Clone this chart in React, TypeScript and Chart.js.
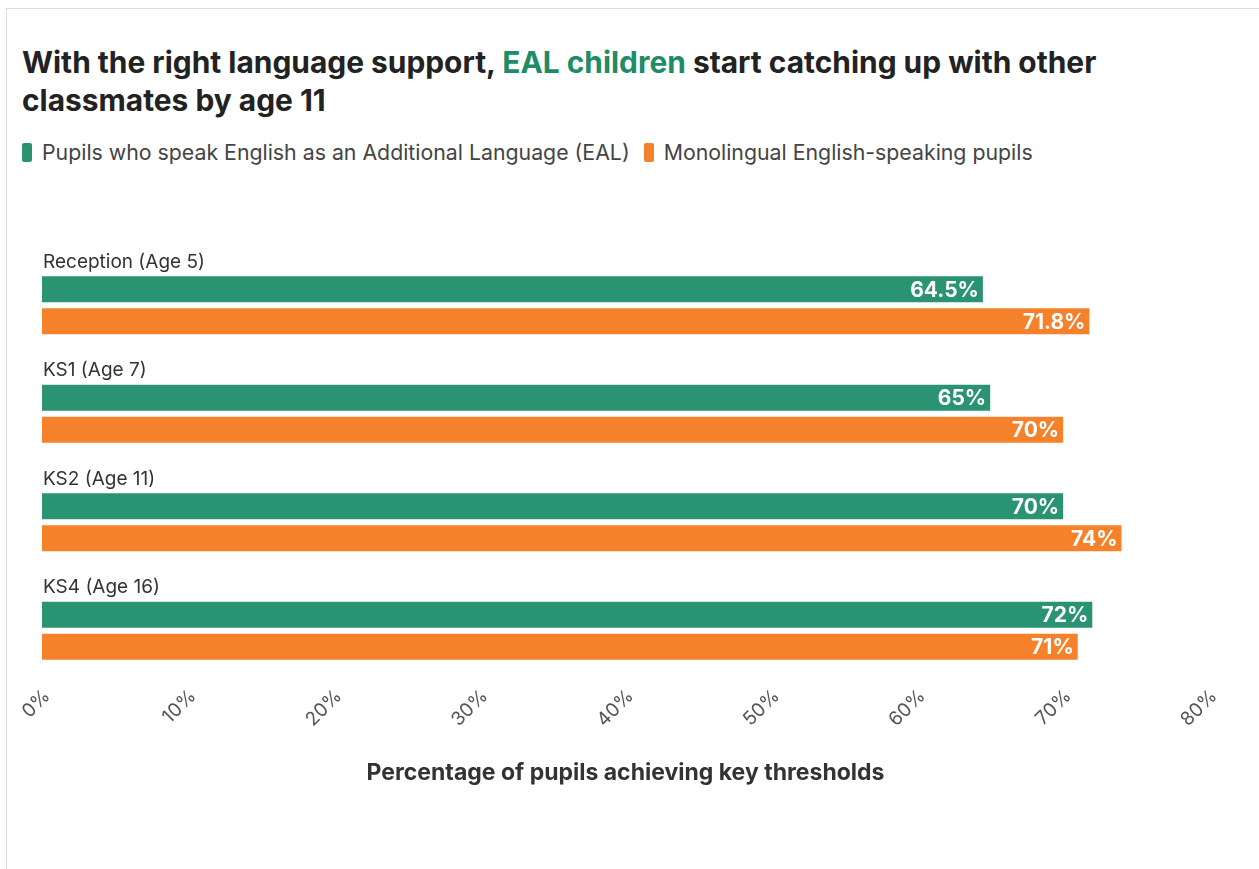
import React, { useEffect, useRef } from "react";
import { Chart, registerables } from "chart.js";

Chart.register(...registerables);

const categories = ["Reception (Age 5)", "KS1 (Age 7)", "KS2 (Age 11)", "KS4 (Age 16)"];
const ealValues = [64.5, 65, 70, 72];
const monoValues = [71.8, 70, 74, 71];
const ealLabels = ["64.5%", "65%", "70%", "72%"];
const monoLabels = ["71.8%", "70%", "74%", "71%"];
const seriesNames = [
  "Pupils who speak English as an Additional Language (EAL)",
  "Monolingual English-speaking pupils",
];
const GREEN = "#2a9371";
const ORANGE = "#f5822a";
const FONT = "Inter, 'Noto Sans', sans-serif";

const valueLabelPlugin = {
  id: "valueLabels",
  afterDatasetsDraw(chart: any) {
    const ctx = chart.ctx;
    const texts = [ealLabels, monoLabels];
    ctx.save();
    ctx.font = `bold 21px ${FONT}`;
    ctx.fillStyle = "#ffffff";
    ctx.textAlign = "right";
    ctx.textBaseline = "middle";
    chart.data.datasets.forEach((_: any, di: number) => {
      const meta = chart.getDatasetMeta(di);
      meta.data.forEach((bar: any, i: number) => {
        ctx.fillText(texts[di][i], bar.x - 4, bar.y + 1);
      });
    });
    ctx.restore();
  },
};

const categoryLabelPlugin = {
  id: "categoryLabels",
  afterDraw(chart: any) {
    const ctx = chart.ctx;
    const y = chart.scales.y;
    ctx.save();
    ctx.font = `19px ${FONT}`;
    ctx.fillStyle = "#333333";
    ctx.textAlign = "left";
    ctx.textBaseline = "middle";
    categories.forEach((c, i) => {
      ctx.fillText(c, chart.chartArea.left + 1, y.getPixelForValue(i) - 43);
    });
    ctx.restore();
  },
};

export default function App() {
  const ref = useRef<HTMLCanvasElement | null>(null);
  useEffect(() => {
    document.body.style.margin = "0";
    const chart = new Chart(ref.current!, {
      type: "bar",
      data: {
        labels: categories,
        datasets: [
          { label: seriesNames[0], data: ealValues, backgroundColor: GREEN, barPercentage: 0.81, categoryPercentage: 0.59 },
          { label: seriesNames[1], data: monoValues, backgroundColor: ORANGE, barPercentage: 0.81, categoryPercentage: 0.59 },
        ],
      },
      options: {
        indexAxis: "y",
        animation: false,
        responsive: false,
        layout: { padding: { left: 42, right: 50, top: 11, bottom: 0 } },
        plugins: { legend: { display: false }, tooltip: { enabled: false } },
        scales: {
          y: { display: false, grid: { display: false } },
          x: {
            min: 0,
            max: 80,
            grid: { display: false, drawTicks: false },
            border: { display: false },
            ticks: {
              stepSize: 10,
              minRotation: 45,
              maxRotation: 45,
              padding: 0,
              labelOffset: 5,
              color: "#555555",
              font: { family: FONT, size: 19 },
              callback: (v: any) => `${v}%`,
            },
            title: {
              display: true,
              text: "Percentage of pupils achieving key thresholds",
              color: "#333333",
              font: { family: FONT, size: 23, weight: "bold" },
              padding: { top: 28, bottom: 0 },
            },
          },
        },
      },
      plugins: [valueLabelPlugin, categoryLabelPlugin],
    });
    return () => chart.destroy();
  }, []);

  return (
    <div style={{ position: "relative", width: 1259, height: 869, overflow: "hidden", background: "#fff", fontFamily: FONT }}>
      <div style={{ position: "absolute", left: 6, top: 8, width: 1300, height: 900, border: "1px solid #dddddd", boxSizing: "border-box" }} />
      <div style={{ position: "absolute", left: 22, top: 43, fontSize: 29.9, fontWeight: 700, color: "#222222", lineHeight: "38px", whiteSpace: "nowrap" }}>
        With the right language support, <span style={{ color: "#1e8c64" }}>EAL children</span> start catching up with other
        <br />
        classmates by age 11
      </div>
      <div style={{ position: "absolute", left: 22, top: 140, fontSize: 21.3, color: "#444444", display: "flex", alignItems: "center", whiteSpace: "nowrap", lineHeight: "24px" }}>
        <span style={{ display: "inline-block", width: 10, height: 19, borderRadius: 2, background: GREEN, marginRight: 10 }} />
        <span>{seriesNames[0]}</span>
        <span style={{ display: "inline-block", width: 10, height: 19, borderRadius: 2, background: ORANGE, marginLeft: 14, marginRight: 10 }} />
        <span>{seriesNames[1]}</span>
      </div>
      <canvas ref={ref} width={1259} height={547} style={{ position: "absolute", left: 0, top: 240 }} />
    </div>
  );
}
